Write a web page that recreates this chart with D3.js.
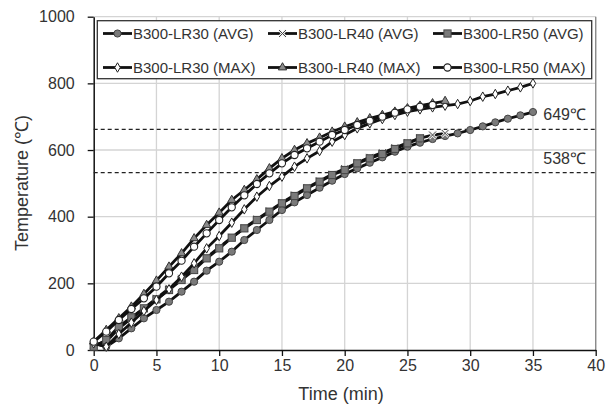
<!DOCTYPE html>
<html>
<head>
<meta charset="utf-8">
<script src="https://cdn.jsdelivr.net/npm/d3@7"></script>
<style>
  body { margin: 0; background: #fff; }
  text { font-family: "Liberation Sans", Arial, sans-serif; fill: #333; }
</style>
</head>
<body>
<svg width="613" height="410"></svg>
<script>
// temperatures at each minute
let lr30Avg = [20, 10, 35, 65, 95, 120, 145, 175, 205, 238, 265, 295, 330, 360, 390, 420, 443, 465, 487, 508, 528, 545, 562, 578, 595, 610, 622, 633, 642, 650, 660, 671, 683, 694, 704, 714];
let lr40Avg = [15, 25, 65, 95, 125, 155, 185, 215, 245, 278, 308, 338, 366, 392, 417, 442, 465, 487, 507, 527, 544, 562, 578, 592, 607, 622, 636, 645, 650];
let lr50Avg = [10, 30, 70, 98, 125, 152, 180, 210, 240, 275, 305, 337, 365, 390, 415, 440, 462, 485, 505, 525, 540, 560, 575, 588, 603, 620, 635];
let lr30Max = [20, 10, 48, 82, 117, 150, 182, 220, 260, 305, 342, 382, 422, 460, 492, 520, 550, 575, 597, 625, 645, 665, 680, 693, 705, 715, 722, 728, 733, 738, 747, 760, 768, 778, 788, 800];
let lr40Max = [25, 60, 95, 130, 168, 208, 250, 290, 335, 375, 412, 450, 480, 512, 545, 575, 600, 620, 637, 655, 670, 683, 695, 705, 715, 725, 733, 740, 747];
let lr50Max = [25, 55, 90, 123, 155, 190, 230, 268, 310, 350, 390, 428, 464, 498, 530, 560, 585, 605, 625, 645, 660, 675, 688, 700, 712, 722, 730, 735];

let seriesNames = ["B300-LR30 (AVG)", "B300-LR40 (AVG)", "B300-LR50 (AVG)",
                   "B300-LR30 (MAX)", "B300-LR40 (MAX)", "B300-LR50 (MAX)"];
let seriesValues = [lr30Avg, lr40Avg, lr50Avg, lr30Max, lr40Max, lr50Max];
let markerKinds = ["grayCircle", "cross", "graySquare", "whiteDiamond", "grayTriangle", "whiteCircle"];

let xTicks = [0, 5, 10, 15, 20, 25, 30, 35, 40];
let yTicks = [0, 200, 400, 600, 800, 1000];
let refLevels = [662, 532];
let refLabels = ["649℃", "538℃"];

let plotLeft = 93.7, plotRight = 595.7, plotTop = 16.7, plotBottom = 350;

let svg = d3.select("svg");

let x = d3.scaleLinear().domain([0, 40]).range([plotLeft, plotRight]);
let y = d3.scaleLinear().domain([0, 1000]).range([plotBottom, plotTop]);

// grid
svg.append("g").selectAll("line")
    .data(xTicks.slice(1))
    .join("line")
    .attr("x1", d => x(d)).attr("x2", d => x(d))
    .attr("y1", plotTop).attr("y2", plotBottom)
    .attr("stroke", "#d4d4d4").attr("stroke-width", 1.3);

svg.append("g").selectAll("line")
    .data(yTicks.slice(1))
    .join("line")
    .attr("x1", plotLeft).attr("x2", plotRight)
    .attr("y1", d => y(d)).attr("y2", d => y(d))
    .attr("stroke", "#d4d4d4").attr("stroke-width", 1.3);

// frame right side
svg.append("line")
    .attr("x1", plotRight).attr("x2", plotRight).attr("y1", plotTop).attr("y2", plotBottom)
    .attr("stroke", "#888").attr("stroke-width", 1.3);

// axes
let xAxis = svg.append("g")
    .attr("transform", "translate(0," + plotBottom + ")")
    .call(d3.axisBottom(x).tickValues(xTicks).tickFormat(d3.format("d"))
        .tickSize(6).tickPadding(4).tickSizeOuter(0));
let yAxis = svg.append("g")
    .attr("transform", "translate(" + plotLeft + ",0)")
    .call(d3.axisLeft(y).tickValues(yTicks).tickFormat(d3.format("d"))
        .tickSize(6).tickPadding(13).tickSizeOuter(0));

[xAxis, yAxis].forEach(function (a) {
    a.select(".domain").attr("stroke", "#111").attr("stroke-width", 1.5);
    a.selectAll(".tick line").attr("stroke", "#111").attr("stroke-width", 1.3);
    a.selectAll(".tick text")
        .attr("fill", "#333")
        .style("font-size", "16px")
        .style("font-family", "'Liberation Sans', Arial, sans-serif");
});

// dashed reference lines
svg.append("g").selectAll("line")
    .data(refLevels)
    .join("line")
    .attr("x1", plotLeft).attr("x2", plotRight)
    .attr("y1", d => y(d)).attr("y2", d => y(d))
    .attr("stroke", "#222").attr("stroke-width", 1.2)
    .attr("stroke-dasharray", "4,3");

svg.append("g").selectAll("text")
    .data(refLevels)
    .join("text")
    .attr("x", 586).attr("y", d => y(d) - 9)
    .attr("text-anchor", "end")
    .style("font-size", "16px")
    .text((d, i) => refLabels[i]);

// marker drawing
function drawMarker(g, kind) {
    if (kind === "grayCircle") {
        g.append("circle").attr("r", 3.6).attr("fill", "#7a7a7a").attr("stroke", "#444").attr("stroke-width", 1);
    } else if (kind === "whiteCircle") {
        g.append("circle").attr("r", 3.6).attr("fill", "#fff").attr("stroke", "#222").attr("stroke-width", 1.1);
    } else if (kind === "graySquare") {
        g.append("rect").attr("x", -3.6).attr("y", -3.6).attr("width", 7.2).attr("height", 7.2)
            .attr("fill", "#7a7a7a").attr("stroke", "#444").attr("stroke-width", 1);
    } else if (kind === "whiteDiamond") {
        g.append("path").attr("d", d3.symbol(d3.symbolDiamond, 26)())
            .attr("fill", "#fff").attr("stroke", "#222").attr("stroke-width", 1);
    } else if (kind === "grayTriangle") {
        g.append("path").attr("d", d3.symbol(d3.symbolTriangle, 30)())
            .attr("fill", "#8a8a8a").attr("stroke", "#333").attr("stroke-width", 1);
    } else if (kind === "cross") {
        g.append("path").attr("d", "M-3.5,-3.5L3.5,3.5M-3.5,3.5L3.5,-3.5")
            .attr("stroke", "#f4f4f4").attr("stroke-width", 2.6);
        g.append("path").attr("d", "M-3.5,-3.5L3.5,3.5M-3.5,3.5L3.5,-3.5")
            .attr("stroke", "#444").attr("stroke-width", 1);
    }
}

let line = d3.line()
    .x((d, i) => x(i))
    .y(d => y(d));

seriesValues.forEach(function (vals, s) {
    let g = svg.append("g");
    g.append("path")
        .datum(vals)
        .attr("fill", "none")
        .attr("stroke", "#111")
        .attr("stroke-width", 2.8)
        .attr("d", line);
    g.selectAll("g")
        .data(vals)
        .join("g")
        .attr("transform", (d, i) => "translate(" + x(i) + "," + y(d) + ")")
        .each(function () { drawMarker(d3.select(this), markerKinds[s]); });
});

// legend
let legend = svg.append("g");
legend.append("rect")
    .attr("x", 97.3).attr("y", 20.7).attr("width", 494.4).attr("height", 58)
    .attr("fill", "#fff").attr("stroke", "#333").attr("stroke-width", 1.3);

let colX = [103, 268, 433];
let rowY = [33.5, 67.5];

seriesNames.forEach(function (name, i) {
    let cx = colX[i % 3], cy = rowY[Math.floor(i / 3)];
    let item = legend.append("g");
    item.append("line")
        .attr("x1", cx).attr("x2", cx + 29).attr("y1", cy).attr("y2", cy)
        .attr("stroke", "#111").attr("stroke-width", 2.8);
    let m = item.append("g").attr("transform", "translate(" + (cx + 14.5) + "," + cy + ")");
    drawMarker(m, markerKinds[i]);
    item.append("text")
        .attr("x", cx + 30).attr("y", cy + 5.5)
        .style("font-size", "15px")
        .text(name);
});

// axis titles
svg.append("text")
    .attr("x", 341).attr("y", 400)
    .attr("text-anchor", "middle")
    .style("font-size", "18px")
    .text("Time (min)");

svg.append("text")
    .attr("transform", "translate(28,183) rotate(-90)")
    .attr("text-anchor", "middle")
    .style("font-size", "18px")
    .text("Temperature (℃)");
</script>
</body>
</html>
